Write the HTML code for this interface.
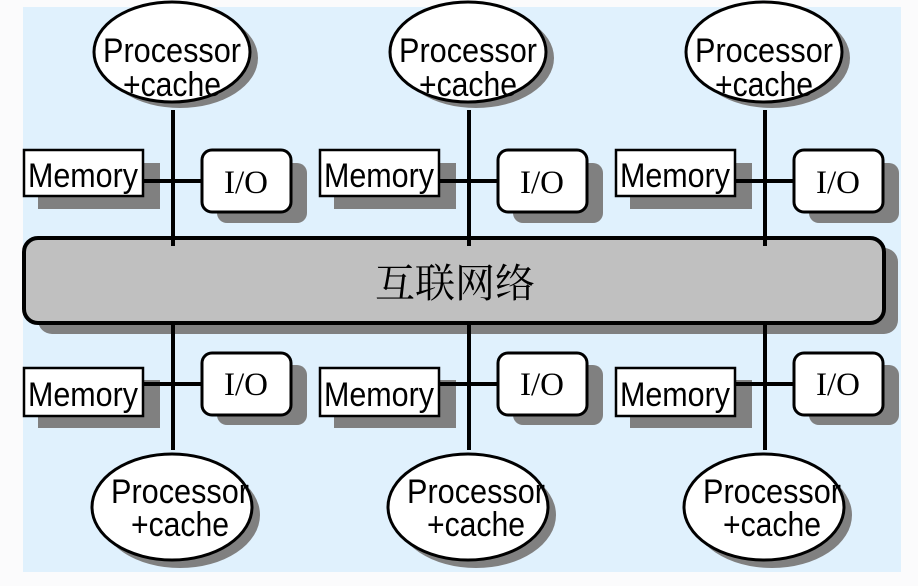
<!DOCTYPE html>
<html><head><meta charset="utf-8"><style>
html,body{margin:0;padding:0;background:#fff;}
svg{display:block}
.s{font-family:"Liberation Sans",sans-serif;font-size:34px;fill:#000}
.r{font-family:"Liberation Serif",serif;font-size:33px;fill:#000}
</style></head><body>
<svg width="918" height="586" viewBox="0 0 918 586" xmlns="http://www.w3.org/2000/svg">
<rect x="0" y="0" width="918" height="586" fill="#fbfbfc"/>
<rect x="23" y="7" width="878" height="565" fill="#e0f1fd"/>
<defs>
<g id="top">
  <line x1="173" y1="110" x2="173" y2="240" stroke="#000" stroke-width="4"/>
  <ellipse cx="180" cy="58" rx="78" ry="50" fill="#808080"/>
  <ellipse cx="172" cy="52" rx="78" ry="50" fill="#fff" stroke="#000" stroke-width="3"/>
  <text class="s" x="172" y="62" text-anchor="middle" textLength="138" lengthAdjust="spacingAndGlyphs">Processor</text>
  <text class="s" x="172" y="96" text-anchor="middle" textLength="98" lengthAdjust="spacingAndGlyphs">+cache</text>
  <rect x="38" y="163" width="122" height="46" fill="#808080"/>
  <rect x="24" y="150" width="119" height="46" fill="#fff" stroke="#000" stroke-width="2.5"/>
  <text class="s" x="83" y="187" text-anchor="middle" textLength="110" lengthAdjust="spacingAndGlyphs">Memory</text>
  <rect x="217" y="163" width="90" height="60" rx="10" fill="#808080"/>
  <rect x="202" y="150" width="89" height="62" rx="10" fill="#fff" stroke="#000" stroke-width="3"/>
  <text class="r" x="246" y="193" text-anchor="middle">I/O</text>
  <line x1="143" y1="181" x2="202" y2="181" stroke="#000" stroke-width="4"/>
</g>
<g id="bot">
  <line x1="173" y1="323" x2="173" y2="450" stroke="#000" stroke-width="4"/>
  <rect x="38" y="380" width="122" height="48" fill="#808080"/>
  <rect x="24" y="368" width="119" height="48" fill="#fff" stroke="#000" stroke-width="2.5"/>
  <text class="s" x="83" y="406" text-anchor="middle" textLength="110" lengthAdjust="spacingAndGlyphs">Memory</text>
  <rect x="217" y="365" width="90" height="60" rx="10" fill="#808080"/>
  <rect x="202" y="353" width="89" height="62" rx="10" fill="#fff" stroke="#000" stroke-width="3"/>
  <text class="r" x="246" y="395" text-anchor="middle">I/O</text>
  <line x1="143" y1="384" x2="202" y2="384" stroke="#000" stroke-width="4"/>
  <ellipse cx="180" cy="515" rx="80" ry="53" fill="#808080"/>
  <ellipse cx="172" cy="507" rx="80" ry="53" fill="#fff" stroke="#000" stroke-width="3"/>
  <text class="s" x="180" y="503" text-anchor="middle" textLength="138" lengthAdjust="spacingAndGlyphs">Processor</text>
  <text class="s" x="180" y="536" text-anchor="middle" textLength="98" lengthAdjust="spacingAndGlyphs">+cache</text>
</g>
</defs>
<use href="#top"/>
<use href="#top" x="296"/>
<use href="#top" x="592"/>
<rect x="38" y="248" width="860" height="86" rx="14" fill="#808080"/>
<rect x="24" y="238" width="860" height="85" rx="14" fill="#c0c0c0" stroke="#000" stroke-width="4"/>
<line x1="173" y1="230" x2="173" y2="246" stroke="#000" stroke-width="4"/>
<line x1="469" y1="230" x2="469" y2="246" stroke="#000" stroke-width="4"/>
<line x1="765" y1="230" x2="765" y2="246" stroke="#000" stroke-width="4"/>
<text x="455" y="297" text-anchor="middle" font-family="'Liberation Serif','Noto Serif CJK SC',serif" font-size="40" fill="#000">互联网络</text>
<use href="#bot"/>
<use href="#bot" x="296"/>
<use href="#bot" x="592"/>
</svg>
</body></html>
